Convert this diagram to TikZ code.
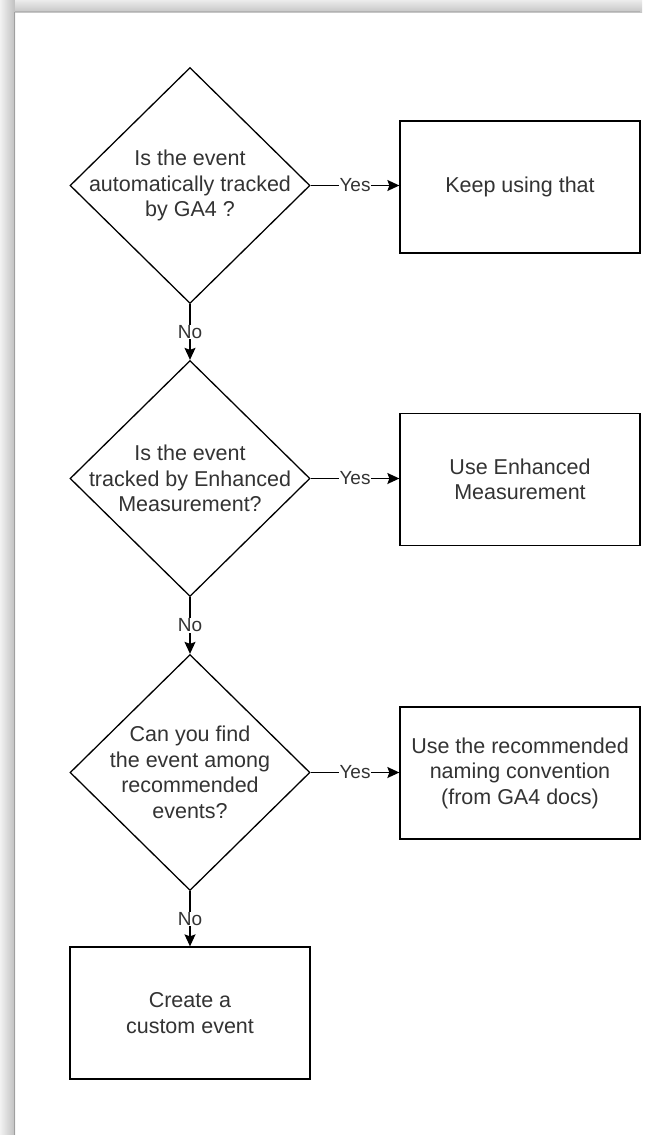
\documentclass[tikz,border=0pt]{standalone}
\usepackage{fontspec}
\setmainfont{Liberation Sans}
\usetikzlibrary{shapes.geometric,arrows.meta}
\definecolor{txtc}{HTML}{333333}
\begin{document}
\begin{tikzpicture}[x=1pt,y=-1pt,
  decision/.style={diamond,draw=black,line width=1.3pt,minimum width=240pt,minimum height=236pt,inner sep=0pt},
  outcome/.style={rectangle,draw=black,line width=1.3pt,minimum width=240pt,minimum height=132pt,inner sep=0pt},
  txt/.style={align=center,text=txtc,font=\fontsize{21.5}{25.5}\selectfont},
  lbl/.style={fill=white,text=txtc,inner sep=0.5pt,font=\fontsize{19}{21}\selectfont},
  flow/.style={draw=black,line width=1.3pt,-{Stealth[length=12pt,width=11pt,inset=2pt]}}
]
\useasboundingbox (0,0) rectangle (647,1135);
\fill[white] (0,0) rectangle (647,1135);
% frame
\shade[left color=gray!10,right color=gray!50] (0,0) rectangle (15,1135);
\shade[top color=gray!15,bottom color=gray!45] (15,0) rectangle (642,12);
\draw[gray!75,line width=1pt] (14.5,12) -- (14.5,1135);
\draw[gray!60,line width=1pt] (14.5,11.5) -- (640,11.5);

% decisions
\node[decision] (d1) at (190,185.5) {};
\node[txt] (t1) at (d1.center) {Is the event\\automatically tracked\\by GA4 ?};
\node[decision] (d2) at (190,478.5) {};
\node[txt] (t2) at (d2.center) {Is the event\\tracked by Enhanced\\Measurement?};
\node[decision] (d3) at (190,772.5) {};
\node[txt] (t3) at (d3.center) {Can you find\\the event among\\recommended\\events?};

% outcomes
\node[outcome] (b1) at (520,187) {};
\node[txt] at (b1.center) {Keep using that};
\node[outcome] (b2) at (520,479.5) {};
\node[txt] at (b2.center) {Use Enhanced\\Measurement};
\node[outcome] (b3) at (520,773) {};
\node[txt] at (b3.center) {Use the recommended\\naming convention\\(from GA4 docs)};
\node[outcome] (b4) at (190,1013) {};
\node[txt] at (b4.center) {Create a\\custom event};

% connectors
\draw[flow] (d1.east) -- node[lbl]{Yes} (b1.west |- d1.east);
\draw[flow] (d2.east) -- node[lbl]{Yes} (b2.west |- d2.east);
\draw[flow] (d3.east) -- node[lbl]{Yes} (b3.west |- d3.east);
\draw[flow] (d1.south) -- node[lbl]{No} (d2.north);
\draw[flow] (d2.south) -- node[lbl]{No} (d3.north);
\draw[flow] (d3.south) -- node[lbl]{No} (b4.north);
\end{tikzpicture}
\end{document}
